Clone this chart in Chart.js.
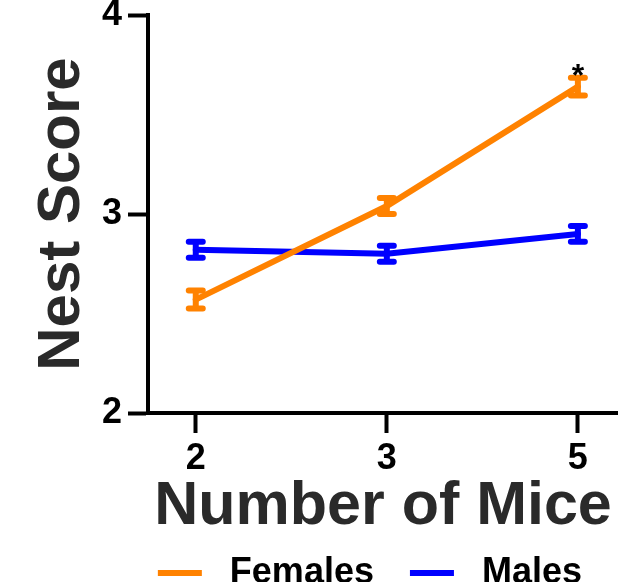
<!DOCTYPE html>
<html>
<head>
<meta charset="utf-8">
<script src="https://cdn.jsdelivr.net/npm/chart.js@4/dist/chart.umd.min.js"></script>
<style>
  html, body { margin: 0; padding: 0; background: #fff; overflow: hidden; }
  #wrap { position: absolute; left: 0; top: 0; width: 618px; height: 601px; }
</style>
</head>
<body>
<div id="wrap"><canvas id="chart"></canvas></div>
<script>
// x categories (number of mice per cage)
const groupLabels = ['2', '3', '5'];

// mean nest score and SEM per group
const femaleMeans = [2.57, 3.04, 3.64];
const femaleSem = [0.045, 0.04, 0.045];
const maleMeans = [2.82, 2.80, 2.90];
const maleSem = [0.04, 0.04, 0.04];

// significance marks per group (female series)
const femaleMarks = ['', '', '*'];

const FONT = '"Liberation Sans", Arial, Helvetica, sans-serif';

function toPoints(values) {
  return values.map((v, i) => ({ x: i, y: v }));
}

const errorBarPlugin = {
  id: 'errorBars',
  afterDatasetsDraw(chart) {
    const { ctx } = chart;
    const xScale = chart.scales.x;
    const yScale = chart.scales.y;
    // draw back to front so females stay on top
    for (let d = chart.data.datasets.length - 1; d >= 0; d--) {
      const ds = chart.data.datasets[d];
      if (!ds.errors) continue;
      ctx.save();
      ctx.strokeStyle = ds.borderColor;
      ctx.lineWidth = 6;
      ctx.lineCap = 'round';
      ds.data.forEach((p, i) => {
        const x = xScale.getPixelForValue(p.x);
        const top = yScale.getPixelForValue(p.y + ds.errors[i]);
        const bot = yScale.getPixelForValue(p.y - ds.errors[i]);
        ctx.beginPath();
        ctx.moveTo(x, top);
        ctx.lineTo(x, bot);
        ctx.moveTo(x - 7, top);
        ctx.lineTo(x + 7, top);
        ctx.moveTo(x - 7, bot);
        ctx.lineTo(x + 7, bot);
        ctx.stroke();
        if (ds.marks && ds.marks[i]) {
          ctx.fillStyle = '#000';
          ctx.font = 'bold 32px ' + FONT;
          ctx.textAlign = 'center';
          ctx.textBaseline = 'alphabetic';
          ctx.fillText(ds.marks[i], x, top + 8);
        }
      });
      ctx.restore();
    }
  },
};

const baseLabels = Chart.defaults.plugins.legend.labels.generateLabels;

const chart = new Chart(document.getElementById('chart'), {
  type: 'line',
  data: {
    datasets: [
      {
        label: 'Females',
        data: toPoints(femaleMeans),
        errors: femaleSem,
        marks: femaleMarks,
        borderColor: '#ff8200',
        backgroundColor: '#ff8200',
        borderWidth: 6,
        borderCapStyle: 'round',
        pointRadius: 0,
        pointStyle: 'line',
      },
      {
        label: 'Males',
        data: toPoints(maleMeans),
        errors: maleSem,
        borderColor: '#0000ff',
        backgroundColor: '#0000ff',
        borderWidth: 6,
        borderCapStyle: 'round',
        pointRadius: 0,
        pointStyle: 'line',
      },
    ],
  },
  options: {
    responsive: true,
    maintainAspectRatio: false,
    animation: false,
    layout: { padding: 0 },
    plugins: {
      tooltip: { enabled: false },
      legend: {
        position: 'bottom',
        align: 'end',
        fullSize: true,
        labels: {
          usePointStyle: true,
          pointStyle: 'line',
          pointStyleWidth: 44,
          boxHeight: 36,
          padding: 36,
          color: '#000',
          font: { family: FONT, size: 36, weight: 'bold', lineHeight: 1 },
          generateLabels: (c) => baseLabels(c).map((item) => ({ ...item, text: ' ' + item.text })),
        },
      },
    },
    scales: {
      x: {
        type: 'linear',
        min: -0.25,
        max: 2.21,
        afterFit: (scale) => { scale.height = 106; },
        afterBuildTicks: (scale) => { scale.ticks = groupLabels.map((_, i) => ({ value: i })); },
        border: { display: true, color: '#000', width: 4 },
        grid: { drawOnChartArea: false, drawTicks: true, tickLength: 20, tickWidth: 4, tickColor: '#000' },
        ticks: {
          color: '#000',
          padding: 8,
          maxRotation: 0,
          font: { family: FONT, size: 36, weight: 'bold', lineHeight: 1 },
          callback: (v) => groupLabels[v],
        },
        title: {
          display: true,
          text: 'Number of Mice',
          color: '#2a2a2a',
          padding: { top: 0, bottom: -19 },
          font: { family: FONT, size: 61, weight: 'bold', lineHeight: 1 },
        },
      },
      y: {
        min: 2,
        max: 4,
        afterFit: (scale) => { scale.width = 148; },
        border: { display: true, color: '#000', width: 4 },
        grid: { drawOnChartArea: false, drawTicks: true, tickLength: 20, tickWidth: 4, tickColor: '#000' },
        ticks: {
          stepSize: 1,
          color: '#000',
          padding: 6,
          font: { family: FONT, size: 36, weight: 'bold', lineHeight: 0.5 },
        },
        title: {
          display: true,
          text: 'Nest Score',
          color: '#2a2a2a',
          padding: { top: 32, bottom: 0 },
          font: { family: FONT, size: 60, weight: 'bold', lineHeight: 1 },
        },
      },
    },
  },
  plugins: [errorBarPlugin],
});
</script>
</body>
</html>
